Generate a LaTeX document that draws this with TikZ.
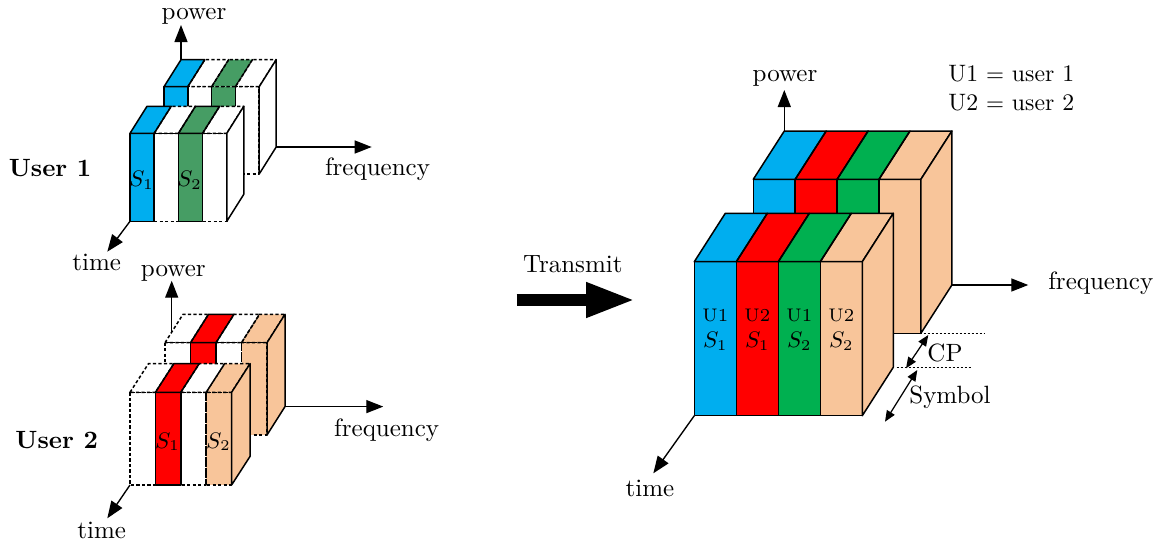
\documentclass[tikz,border=0pt]{standalone}
\usetikzlibrary{arrows.meta}
\definecolor{cblue}{RGB}{0,174,239}
\definecolor{cred}{RGB}{255,0,0}
\definecolor{cgreenA}{RGB}{70,157,100}
\definecolor{cgreenB}{RGB}{0,176,80}
\definecolor{cpeach}{RGB}{248,197,154}
\tikzset{
  solidedge/.style={draw=black, line width=0.6pt, line join=round},
  dashedge/.style={draw=black, line width=0.6pt, line join=round, dash pattern=on 1.3pt off 0.9pt},
  axis/.style={line width=0.55pt, -{Triangle[length=6.8pt,width=5.2pt]}},
  lbl/.style={anchor=base, inner sep=0pt},
  dimarrow/.style={line width=0.5pt, {Triangle[length=4.4pt,width=3.6pt]}-{Triangle[length=4.4pt,width=3.6pt]}},
  guide/.style={line width=0.5pt, dash pattern=on 0.8pt off 0.8pt},
  bigarrow/.style={line width=4.6pt, -{Triangle[length=19.6pt,width=13pt]}},
}
% #1 x0, #2 ytop, #3 stripe width, #4 height, #5 dx, #6 dz, #7 list colour/dashed, #8 right face colour
\newcommand{\stripbox}[8]{%
  \foreach \col/\sty [count=\i from 0] in {#7}{%
    \pgfmathsetmacro\xa{#1+\i*#3}%
    \pgfmathsetmacro\xb{#1+(\i+1)*#3}%
    \fill[fill=\col] (\xa,#2) -- (\xa+#5,#2-#6) -- (\xb+#5,#2-#6) -- (\xb,#2) -- cycle;
    \fill[fill=\col] (\xa,#2) rectangle (\xb,#2+#4);
  }
  \foreach \col/\sty [count=\i from 0] in {#7}{%
    \pgfmathsetmacro\xa{#1+\i*#3}%
    \pgfmathsetmacro\xb{#1+(\i+1)*#3}%
    \ifnum\sty=1 \tikzset{curedge/.style={dashedge}}\else\tikzset{curedge/.style={solidedge}}\fi
    \path[curedge] (\xa,#2) -- (\xa+#5,#2-#6) -- (\xb+#5,#2-#6) -- (\xb,#2) -- cycle;
    \path[curedge] (\xa,#2) rectangle (\xb,#2+#4);
  }
  \pgfmathsetmacro\xr{#1+4*#3}%
  \path[solidedge, fill=#8] (\xr,#2) -- (\xr+#5,#2-#6) -- (\xr+#5,#2+#4-#6) -- (\xr,#2+#4) -- cycle;
}
\begin{document}
\begin{tikzpicture}[x=0.4pt,y=-0.4pt]
\useasboundingbox (0,0) rectangle (1162,547);

% ---------------- User 1 ----------------
\coordinate (u1p0) at (181,59.7);   \coordinate (u1p1) at (181,25);
\coordinate (u1f0) at (276.2,147);  \coordinate (u1f1) at (371.7,147);
\coordinate (u1t0) at (130,221.3);  \coordinate (u1t1) at (107.3,251.7);
\draw[axis] (u1p0) -- (u1p1);
\draw[axis] (u1f0) -- (u1f1);
\draw[axis] (u1t0) -- (u1t1);
\stripbox{164}{86.7}{23.8}{87.3}{17}{27}{cblue/0,white/1,cgreenA/1,white/1}{white}
\stripbox{130}{133.3}{24.2}{88}{17}{27}{cblue/0,white/1,cgreenA/0,white/1}{white}
\node[lbl] (u1pow) at (194,19.3) {power};
\node[lbl] (u1freq) at (377.5,175) {frequency};
\node[lbl] (u1time) at (96.7,270.7) {time};
\node[lbl] (u1name) at (50,176.7) {\textbf{User 1}};
\node[lbl] (u1s1) at (141.5,186.7) {\small$S_1$};
\node[lbl] (u1s2) at (189.5,186.7) {\small$S_2$};

% ---------------- User 2 ----------------
\coordinate (u2p0) at (171.7,345);  \coordinate (u2p1) at (171.7,280.7);
\coordinate (u2f0) at (285,406.6);  \coordinate (u2f1) at (383.3,406.6);
\coordinate (u2t0) at (130,485);    \coordinate (u2t1) at (107.3,518.3);
\draw[axis] (u2p0) -- (u2p1);
\draw[axis] (u2f0) -- (u2f1);
\draw[axis] (u2t0) -- (u2t1);
\stripbox{165}{342.7}{25.5}{92.3}{18}{28.4}{white/1,cred/0,white/1,cpeach/1}{cpeach}
\stripbox{130}{392.3}{25.4}{92.7}{18.5}{28.7}{white/1,cred/0,white/1,cpeach/1}{cpeach}
\node[lbl] (u2pow) at (173.3,276.7) {power};
\node[lbl] (u2freq) at (386.7,436) {frequency};
\node[lbl] (u2time) at (101.7,538.3) {time};
\node[lbl] (u2name) at (56.7,448.3) {\textbf{User 2}};
\node[lbl] (u2s1) at (167.5,448.3) {\small$S_1$};
\node[lbl] (u2s2) at (218.5,448.3) {\small$S_2$};

% ---------------- Transmit ----------------
\coordinate (tr0) at (516.7,300);
\coordinate (tr1) at (635,300);
\draw[bigarrow] (tr0) -- (tr1);
\node[lbl] (trlbl) at (572.8,272.3) {Transmit};

% ---------------- Combined ----------------
\coordinate (rp0) at (784.3,131);   \coordinate (rp1) at (784.3,90);
\coordinate (rf0) at (952,285);     \coordinate (rf1) at (1028.3,285);
\coordinate (rt0) at (694.3,415.7); \coordinate (rt1) at (653.3,473.3);
\draw[axis] (rp0) -- (rp1);
\draw[axis] (rf0) -- (rf1);
\draw[axis] (rt0) -- (rt1);
\stripbox{753.3}{179.3}{41.9}{154}{31}{48.3}{cblue/0,cred/0,cgreenB/0,cpeach/0}{cpeach}
\stripbox{694.3}{261.7}{42}{154}{31}{48.4}{cblue/0,cred/0,cgreenB/0,cpeach/0}{cpeach}
\node[lbl] (rpow) at (785,81.7) {power};
\node[lbl] (rfreq) at (1100.8,289.3) {frequency};
\node[lbl] (rtime) at (650,496) {time};
\foreach \xx/\uu/\ss [count=\k] in {715.3/U1/S_1,757.3/U2/S_1,799.3/U1/S_2,841.3/U2/S_2}{
  \node[lbl] (ru\k) at (\xx,321) {\fontsize{7.3}{9}\selectfont \uu};
  \node[lbl] (rs\k) at (\xx,347.7) {\small$\ss$};
}
\node[lbl] (leg1) at (1011.3,81) {\fontsize{9.5}{11}\selectfont U1 $=$ user 1};
\node[lbl] (leg2) at (1011.3,110) {\fontsize{9.5}{11}\selectfont U2 $=$ user 2};

% CP / Symbol
\coordinate (g1a) at (911.7,333.3); \coordinate (g1b) at (985,333.3);
\coordinate (g2a) at (896.7,367.7); \coordinate (g2b) at (971,367.7);
\draw[guide] (g1a) -- (g1b);
\draw[guide] (g2a) -- (g2b);
\coordinate (cp0) at (928.3,335);   \coordinate (cp1) at (906,368.3);
\coordinate (sy0) at (917.3,370);   \coordinate (sy1) at (885,421.7);
\draw[dimarrow] (cp0) -- (cp1);
\draw[dimarrow] (sy0) -- (sy1);
\node[lbl] (cplbl) at (945,361) {CP};
\node[lbl] (sylbl) at (950,403.3) {Symbol};
\end{tikzpicture}
\end{document}
